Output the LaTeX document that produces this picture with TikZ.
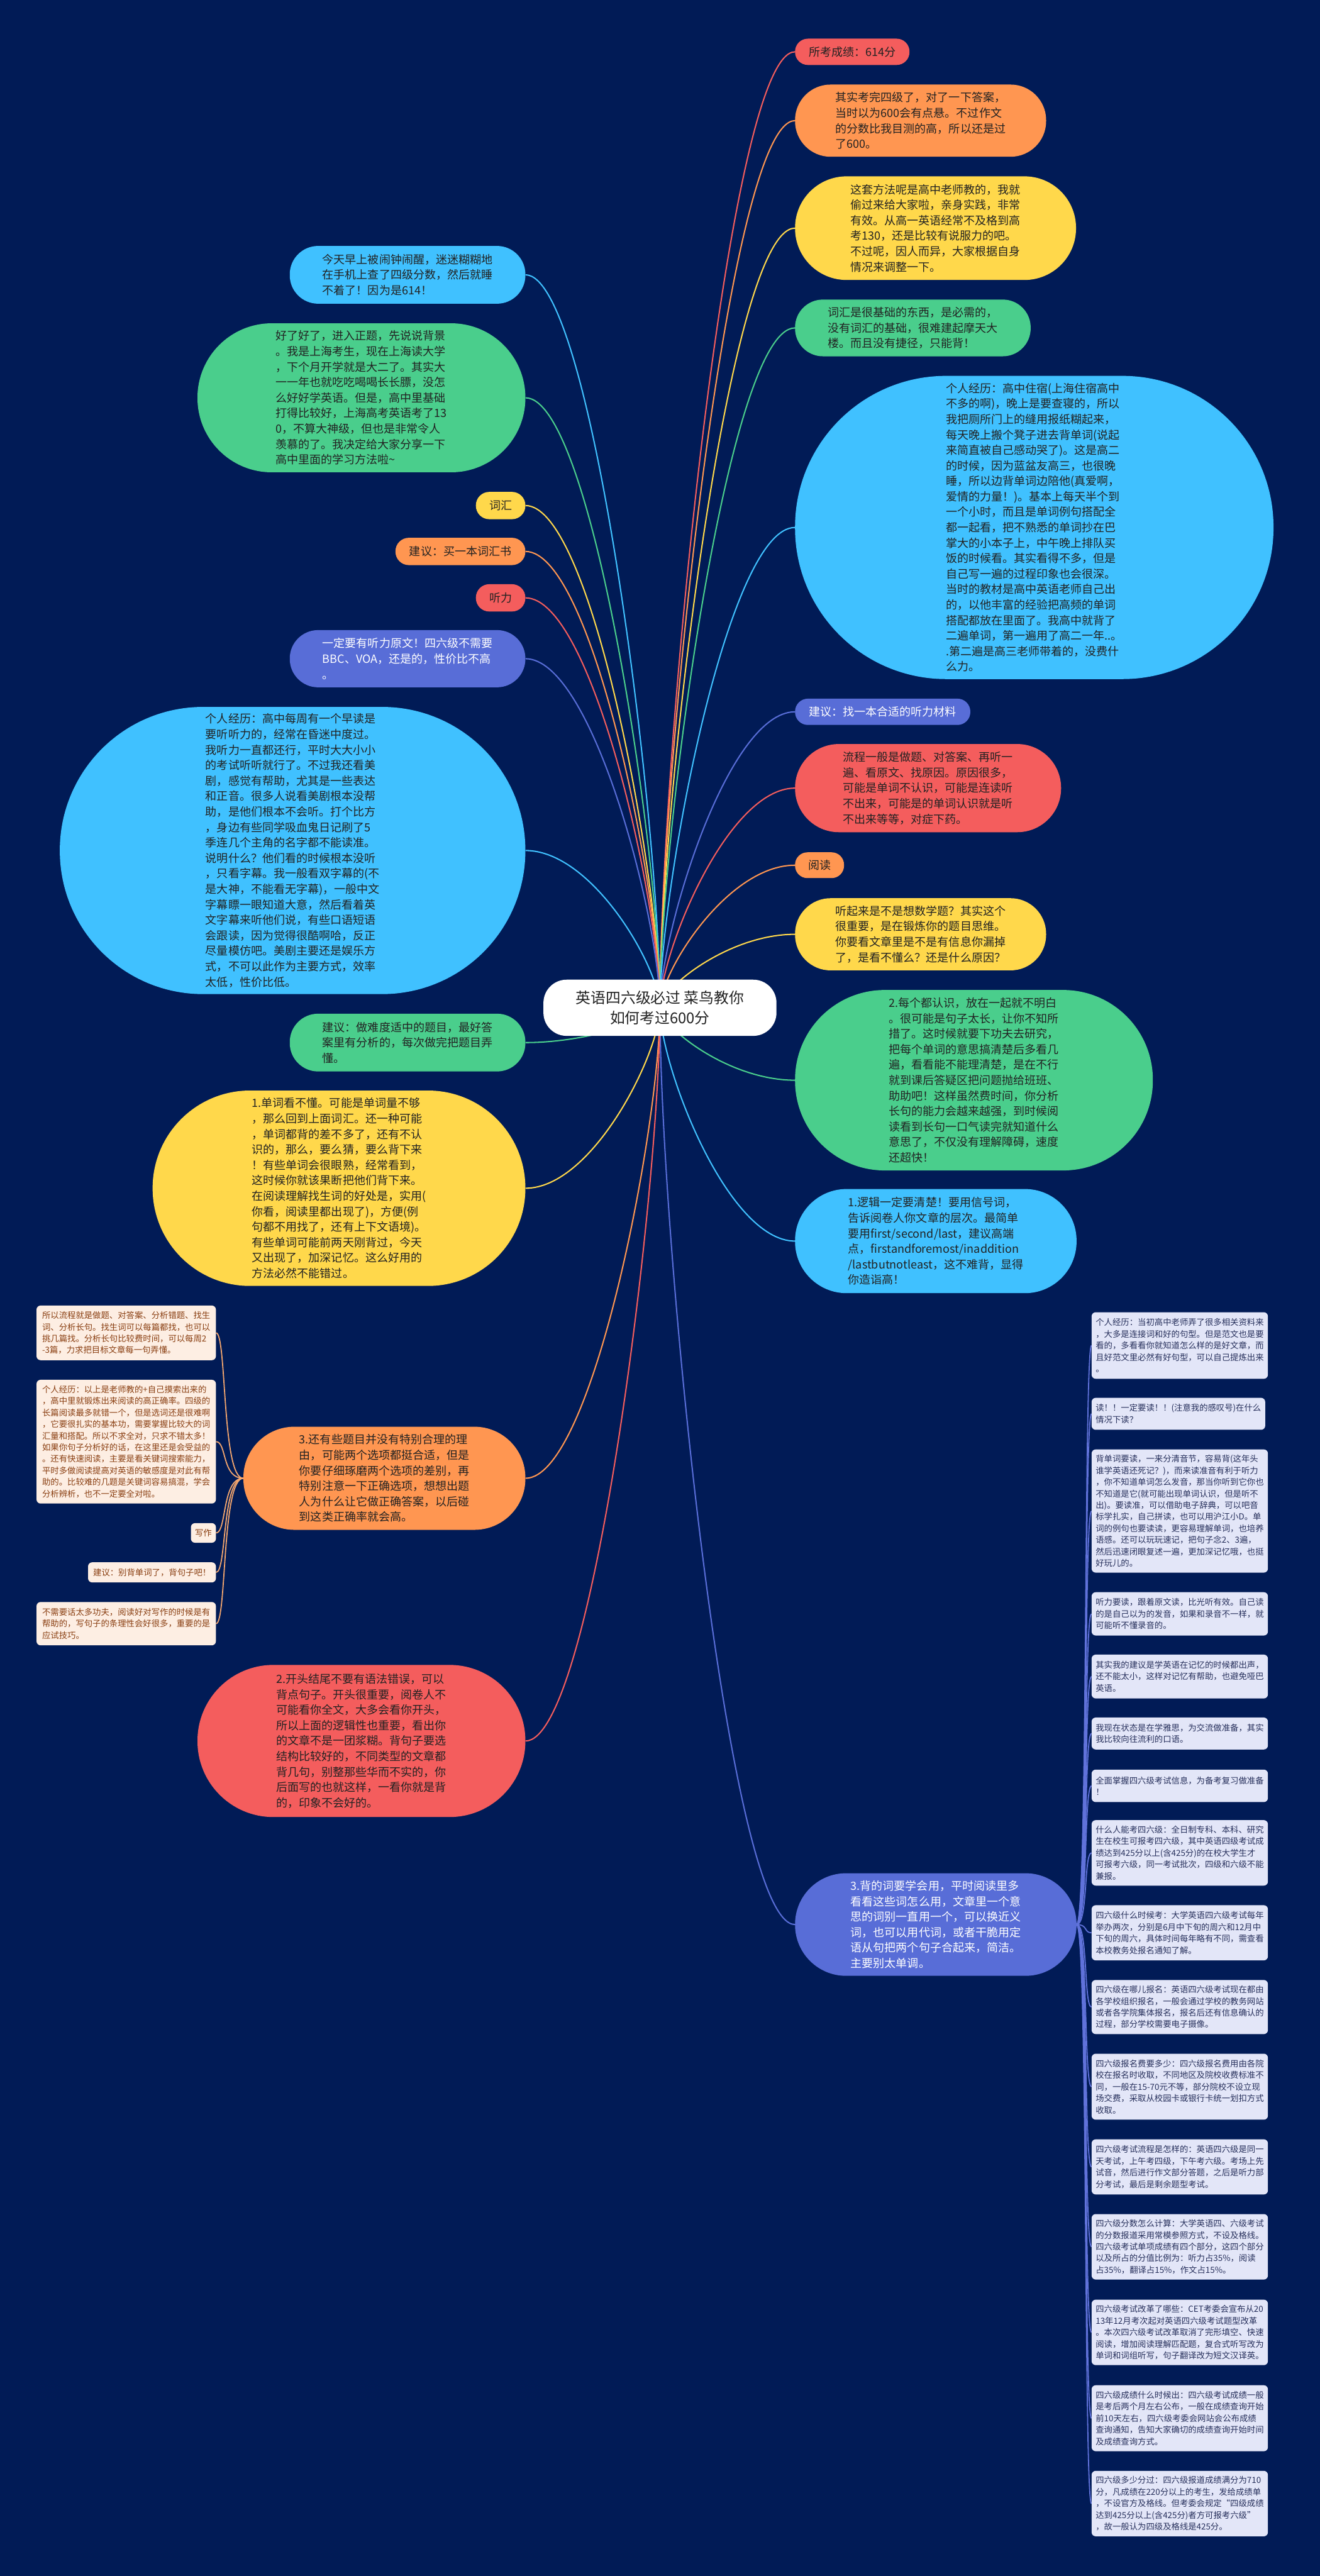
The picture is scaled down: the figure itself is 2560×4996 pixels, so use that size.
\documentclass[tikz,border=0pt]{standalone}
\usepackage{fontspec}
\setmainfont{Noto Sans CJK SC}
\usetikzlibrary{calc}
\pgfdeclarelayer{bgl}
\pgfdeclarelayer{linel}
\pgfsetlayers{bgl,linel,main}
\definecolor{navy}{HTML}{011B56}
\definecolor{cred}{HTML}{F45D5D}
\definecolor{corange}{HTML}{FF9651}
\definecolor{cyellow}{HTML}{FFD84B}
\definecolor{cgreen}{HTML}{4ACE8C}
\definecolor{cblue}{HTML}{40C1FF}
\definecolor{cpurple}{HTML}{586DD7}
\definecolor{txtdark}{HTML}{222222}
\definecolor{noteL}{HTML}{FDEEE3}
\definecolor{noteLtxt}{HTML}{8A3F12}
\definecolor{noteLline}{HTML}{F3A66E}
\definecolor{noteR}{HTML}{E3E6F8}
\definecolor{noteRtxt}{HTML}{27305C}
\definecolor{noteRline}{HTML}{6072DA}
\newcommand{\fbig}{\fontsize{22}{30}\selectfont}
\newcommand{\fnotesz}{\fontsize{16.3}{22.5}\selectfont}
\newcommand{\frootsz}{\fontsize{29}{40}\selectfont}
\newcommand{\hubline}[3]{\draw[hubconn,#1] (#2.#3) .. controls ($(#2.#3)!0.5!(root.center |- #2.#3)$) and ($(root.center)!0.25!(root.center |- #2.#3)$) .. (root.center);}
\newcommand{\lbr}[1]{\draw[bracket,noteLline] (l10.west) .. controls ($(l10.west)+(-42,0)$) and ($(#1.east)+(21,0)$) .. (#1.east);}
\newcommand{\rbr}[1]{\draw[bracket,noteRline] (r12.east) .. controls ($(r12.east)+(22,0)$) and ($(#1.west)+(-15,0)$) .. (#1.west);}
\tikzset{
  bx/.style={inner sep=0pt, align=left, text=txtdark, font=\fbig},
  wbx/.style={bx, text=white},
  lnote/.style={fill=noteL, text=noteLtxt, font=\fnotesz, inner xsep=9pt, inner ysep=0pt, align=left, rounded corners=8pt, anchor=east},
  rnote/.style={fill=noteR, text=noteRtxt, font=\fnotesz, inner xsep=8pt, inner ysep=0pt, align=left, rounded corners=8pt, anchor=west, minimum width=335pt},
  hubconn/.style={line width=2.5pt},
  bracket/.style={line width=2.2pt},
}
\begin{document}
\begin{tikzpicture}[x=1pt,y=-1pt]
\useasboundingbox (0,0) rectangle (2560,4996);
\begin{pgfonlayer}{bgl}
\fill[navy] (0,0) rectangle (2560,4996);
\end{pgfonlayer}

% root
\node[fill=white, rounded corners=45pt, minimum width=452pt, minimum height=109pt, inner sep=0pt, align=center, font=\frootsz, text=txtdark] (root) at (1280,1954.5) {英语四六级必过 菜鸟教你\\如何考过600分};

% right side
\node[bx, fill=cred, minimum width=222pt, minimum height=51pt, rounded corners=25pt] (r1) at (1653,100.5) {所考成绩：614分};
\node[bx, fill=corange, minimum width=487pt, minimum height=140pt, rounded corners=69pt] (r2) at (1785.5,234) {其实考完四级了，对了一下答案，\\当时以为600会有点悬。不过作文\\的分数比我目测的高，所以还是过\\了600。};
\node[bx, fill=cyellow, minimum width=545pt, minimum height=201pt, rounded corners=100pt] (r3) at (1814.5,442.5) {这套方法呢是高中老师教的，我就\\偷过来给大家啦，亲身实践，非常\\有效。从高一英语经常不及格到高\\考130，还是比较有说服力的吧。\\不过呢，因人而异，大家根据自身\\情况来调整一下。};
\node[bx, fill=cgreen, minimum width=457pt, minimum height=110pt, rounded corners=54pt] (r4) at (1770.5,636) {词汇是很基础的东西，是必需的，\\没有词汇的基础，很难建起摩天大\\楼。而且没有捷径，只能背！};
\node[bx, fill=cblue, minimum width=928pt, minimum height=588pt, rounded corners=293pt] (r5) at (2006,1023) {个人经历：高中住宿(上海住宿高中\\不多的啊)，晚上是要查寝的，所以\\我把厕所门上的缝用报纸糊起来，\\每天晚上搬个凳子进去背单词(说起\\来简直被自己感动哭了)。这是高二\\的时候，因为蓝盆友高三，也很晚\\睡，所以边背单词边陪他(真爱啊，\\爱情的力量！)。基本上每天半个到\\一个小时，而且是单词例句搭配全\\都一起看，把不熟悉的单词抄在巴\\掌大的小本子上，中午晚上排队买\\饭的时候看。其实看得不多，但是\\自己写一遍的过程印象也会很深。\\当时的教材是高中英语老师自己出\\的，以他丰富的经验把高频的单词\\搭配都放在里面了。我高中就背了\\二遍单词，第一遍用了高二一年..。\\.第二遍是高三老师带着的，没费什\\么力。};
\node[wbx, fill=cpurple, minimum width=340pt, minimum height=51pt, rounded corners=25pt] (r6) at (1712,1380.5) {建议：找一本合适的听力材料};
\node[bx, fill=cred, minimum width=516pt, minimum height=171pt, rounded corners=85pt] (r7) at (1800,1528.5) {流程一般是做题、对答案、再听一\\遍、看原文、找原因。原因很多，\\可能是单词不认识，可能是连读听\\不出来，可能是的单词认识就是听\\不出来等等，对症下药。};
\node[bx, fill=corange, minimum width=95pt, minimum height=50pt, rounded corners=24pt] (r8) at (1589.5,1678) {阅读};
\node[bx, fill=cyellow, minimum width=487pt, minimum height=140pt, rounded corners=69pt] (r9) at (1785.5,1812) {听起来是不是想数学题？其实这个\\很重要，是在锻炼你的题目思维。\\你要看文章里是不是有信息你漏掉\\了，是看不懂么？还是什么原因？};
\node[bx, fill=cgreen, minimum width=694pt, minimum height=350pt, rounded corners=174pt] (r10) at (1889,2095) {2.每个都认识，放在一起就不明白\\。很可能是句子太长，让你不知所\\措了。这时候就要下功夫去研究，\\把每个单词的意思搞清楚后多看几\\遍，看看能不能理清楚，是在不行\\就到课后答疑区把问题抛给班班、\\助助吧！这样虽然费时间，你分析\\长句的能力会越来越强，到时候阅\\读看到长句一口气读完就知道什么\\意思了，不仅没有理解障碍，速度\\还超快！};
\node[bx, fill=cblue, minimum width=546pt, minimum height=202pt, rounded corners=100pt] (r11) at (1815,2407) {1.逻辑一定要清楚！要用信号词，\\告诉阅卷人你文章的层次。最简单\\要用first/second/last，建议高端\\点，firstandforemost/inaddition\\/lastbutnotleast，这不难背，显得\\你造诣高！};
\node[wbx, fill=cpurple, minimum width=546pt, minimum height=199pt, rounded corners=99pt] (r12) at (1815,3732.5) {3.背的词要学会用，平时阅读里多\\看看这些词怎么用，文章里一个意\\思的词别一直用一个，可以换近义\\词，也可以用代词，或者干脆用定\\语从句把两个句子合起来，简洁。\\主要别太单调。};

% left side
\node[bx, fill=cblue, minimum width=457pt, minimum height=112pt, rounded corners=55pt] (l1) at (790.5,533) {今天早上被闹钟闹醒，迷迷糊糊地\\在手机上查了四级分数，然后就睡\\不着了！因为是614！};
\node[bx, fill=cgreen, minimum width=636pt, minimum height=289pt, rounded corners=144pt] (l2) at (701,771.5) {好了好了，进入正题，先说说背景\\。我是上海考生，现在上海读大学\\，下个月开学就是大二了。其实大\\一一年也就吃吃喝喝长长膘，没怎\\么好好学英语。但是，高中里基础\\打得比较好，上海高考英语考了13\\0，不算大神级，但也是非常令人\\羡慕的了。我决定给大家分享一下\\高中里面的学习方法啦\textasciitilde};
\node[bx, fill=cyellow, minimum width=96pt, minimum height=53pt, rounded corners=26pt] (l3) at (971,980.5) {词汇};
\node[bx, fill=corange, minimum width=252pt, minimum height=53pt, rounded corners=26pt] (l4) at (893,1069.5) {建议：买一本词汇书};
\node[bx, fill=cred, minimum width=96pt, minimum height=53pt, rounded corners=26pt] (l5) at (971,1159.5) {听力};
\node[wbx, fill=cpurple, minimum width=457pt, minimum height=111pt, rounded corners=55pt] (l6) at (790.5,1277.5) {一定要有听力原文！四六级不需要\\BBC、VOA，还是的，性价比不高\\。};
\node[bx, fill=cblue, minimum width=903pt, minimum height=557pt, rounded corners=278pt] (l7) at (567.5,1649.5) {个人经历：高中每周有一个早读是\\要听听力的，经常在昏迷中度过。\\我听力一直都还行，平时大大小小\\的考试听听就行了。不过我还看美\\剧，感觉有帮助，尤其是一些表达\\和正音。很多人说看美剧根本没帮\\助，是他们根本不会听。打个比方\\，身边有些同学吸血鬼日记刷了5\\季连几个主角的名字都不能读准。\\说明什么？他们看的时候根本没听\\，只看字幕。我一般看双字幕的(不\\是大神，不能看无字幕)，一般中文\\字幕瞟一眼知道大意，然后看着英\\文字幕来听他们说，有些口语短语\\会跟读，因为觉得很酷啊哈，反正\\尽量模仿吧。美剧主要还是娱乐方\\式，不可以此作为主要方式，效率\\太低，性价比低。};
\node[bx, fill=cgreen, minimum width=457pt, minimum height=112pt, rounded corners=55pt] (l8) at (790.5,2022) {建议：做难度适中的题目，最好答\\案里有分析的，每次做完把题目弄\\懂。};
\node[bx, fill=cyellow, minimum width=723pt, minimum height=379pt, rounded corners=189pt] (l9) at (657.5,2304.5) {1.单词看不懂。可能是单词量不够\\，那么回到上面词汇。还一种可能\\，单词都背的差不多了，还有不认\\识的，那么，要么猜，要么背下来\\！有些单词会很眼熟，经常看到，\\这时候你就该果断把他们背下来。\\在阅读理解找生词的好处是，实用(\\你看，阅读里都出现了)，方便(例\\句都不用找了，还有上下文语境)。\\有些单词可能前两天刚背过，今天\\又出现了，加深记忆。这么好用的\\方法必然不能错过。};
\node[bx, fill=corange, minimum width=547pt, minimum height=200pt, rounded corners=99pt] (l10) at (745.5,2867) {3.还有些题目并没有特别合理的理\\由，可能两个选项都挺合适，但是\\你要仔细琢磨两个选项的差别，再\\特别注意一下正确选项，想想出题\\人为什么让它做正确答案，以后碰\\到这类正确率就会高。};
\node[bx, fill=cred, minimum width=636pt, minimum height=295pt, rounded corners=147pt] (l11) at (701,3376.5) {2.开头结尾不要有语法错误，可以\\背点句子。开头很重要，阅卷人不\\可能看你全文，大多会看你开头，\\所以上面的逻辑性也重要，看出你\\的文章不是一团浆糊。背句子要选\\结构比较好的，不同类型的文章都\\背几句，别整那些华而不实的，你\\后面写的也就这样，一看你就是背\\的，印象不会好的。};

% left notes
\node[lnote, minimum width=348pt, minimum height=106pt] (n1) at (419,2585) {所以流程就是做题、对答案、分析错题、找生\\词、分析长句。找生词可以每篇都找，也可以\\挑几篇找。分析长句比较费时间，可以每周2\\-3篇，力求把目标文章每一句弄懂。};
\node[lnote, minimum width=348pt, minimum height=240pt] (n2) at (419,2796) {个人经历：以上是老师教的+自己摸索出来的\\，高中里就锻炼出来阅读的高正确率。四级的\\长篇阅读最多就错一个，但是选词还是很难啊\\，它要很扎实的基本功，需要掌握比较大的词\\汇量和搭配。所以不求全对，只求不错太多！\\如果你句子分析好的话，在这里还是会受益的\\。还有快速阅读，主要是看关键词搜索能力，\\平时多做阅读提高对英语的敏感度是对此有帮\\助的。比较难的几题是关键词容易搞混，学会\\分析辨析，也不一定要全对啦。};
\node[lnote, inner xsep=8pt, minimum height=38pt] (n3) at (419,2973) {写作};
\node[lnote, minimum width=248pt, minimum height=39pt] (n4) at (419,3049.5) {建议：别背单词了，背句子吧！};
\node[lnote, minimum width=348pt, minimum height=84pt] (n5) at (419,3149) {不需要话太多功夫，阅读好对写作的时候是有\\帮助的，写句子的条理性会好很多，重要的是\\应试技巧。};

% right notes
\node[rnote, minimum height=129pt] (m1) at (2117,2609.5) {个人经历：当初高中老师弄了很多相关资料来\\，大多是连接词和好的句型。但是范文也是要\\看的，多看看你就知道怎么样的是好文章，而\\且好范文里必然有好句型，可以自己提炼出来\\。};
\node[rnote, minimum height=62pt] (m2) at (2117,2742) {读！！一定要读！！(注意我的感叹号)在什么\\情况下读？};
\node[rnote, minimum height=239pt] (m3) at (2117,2930.5) {背单词要读，一来分清音节，容易背(这年头\\谁学英语还死记？)，而来读准音有利于听力\\，你不知道单词怎么发音，那当你听到它你也\\不知道是它(就可能出现单词认识，但是听不\\出)。要读准，可以借助电子辞典，可以吧音\\标学扎实，自己拼读，也可以用沪江小D。单\\词的例句也要读读，更容易理解单词，也培养\\语感。还可以玩玩速记，把句子念2、3遍，\\然后迅速闭眼复述一遍，更加深记忆哦，也挺\\好玩儿的。};
\node[rnote, minimum height=84pt] (m4) at (2117,3130) {听力要读，跟着原文读，比光听有效。自己读\\的是自己以为的发音，如果和录音不一样，就\\可能听不懂录音的。};
\node[rnote, minimum height=85pt] (m5) at (2117,3251.5) {其实我的建议是学英语在记忆的时候都出声，\\还不能太小，这样对记忆有帮助，也避免哑巴\\英语。};
\node[rnote, minimum height=62pt] (m6) at (2117,3362) {我现在状态是在学雅思，为交流做准备，其实\\我比较向往流利的口语。};
\node[rnote, minimum height=63pt] (m7) at (2117,3463.5) {全面掌握四六级考试信息，为备考复习做准备\\！};
\node[rnote, minimum height=127pt] (m8) at (2117,3593.5) {什么人能考四六级：全日制专科、本科、研究\\生在校生可报考四六级，其中英语四级考试成\\绩达到425分以上(含425分)的在校大学生才\\可报考六级，同一考试批次，四级和六级不能\\兼报。};
\node[rnote, minimum height=107pt] (m9) at (2117,3748.5) {四六级什么时候考：大学英语四六级考试每年\\举办两次，分别是6月中下旬的周六和12月中\\下旬的周六，具体时间每年略有不同，需查看\\本校教务处报名通知了解。};
\node[rnote, minimum height=105pt] (m10) at (2117,3892.5) {四六级在哪儿报名：英语四六级考试现在都由\\各学校组织报名，一般会通过学校的教务网站\\或者各学院集体报名，报名后还有信息确认的\\过程，部分学校需要电子摄像。};
\node[rnote, minimum height=128pt] (m11) at (2117,4047) {四六级报名费要多少：四六级报名费用由各院\\校在报名时收取，不同地区及院校收费标准不\\同，一般在15-70元不等，部分院校不设立现\\场交费，采取从校园卡或银行卡统一划扣方式\\收取。};
\node[rnote, minimum height=107pt] (m12) at (2117,4202.5) {四六级考试流程是怎样的：英语四六级是同一\\天考试，上午考四级，下午考六级。考场上先\\试音，然后进行作文部分答题，之后是听力部\\分考试，最后是剩余题型考试。};
\node[rnote, minimum height=127pt] (m13) at (2117,4357.5) {四六级分数怎么计算：大学英语四、六级考试\\的分数报道采用常模参照方式，不设及格线。\\四六级考试单项成绩有四个部分，这四个部分\\以及所占的分值比例为：听力占35\%，阅读\\占35\%，翻译占15\%，作文占15\%。};
\node[rnote, minimum height=127pt] (m14) at (2117,4523.5) {四六级考试改革了哪些：CET考委会宣布从20\\13年12月考次起对英语四六级考试题型改革\\。本次四六级考试改革取消了完形填空、快速\\阅读，增加阅读理解匹配题，复合式听写改为\\单词和词组听写，句子翻译改为短文汉译英。};
\node[rnote, minimum height=128pt] (m15) at (2117,4690) {四六级成绩什么时候出：四六级考试成绩一般\\是考后两个月左右公布，一般在成绩查询开始\\前10天左右，四六级考委会网站会公布成绩\\查询通知，告知大家确切的成绩查询开始时间\\及成绩查询方式。};
\node[rnote, minimum height=127pt] (m16) at (2117,4855.5) {四六级多少分过：四六级报道成绩满分为710\\分，凡成绩在220分以上的考生，发给成绩单\\，不设官方及格线。但考委会规定“四级成绩\\达到425分以上(含425分)者方可报考六级”\\，故一般认为四级及格线是425分。};

\begin{pgfonlayer}{linel}
\hubline{cred}{r1}{west}
\hubline{corange}{r2}{west}
\hubline{cyellow}{r3}{west}
\hubline{cgreen}{r4}{west}
\hubline{cblue}{r5}{west}
\hubline{cpurple}{r6}{west}
\hubline{cred}{r7}{west}
\hubline{corange}{r8}{west}
\hubline{cyellow}{r9}{west}
\hubline{cgreen}{r10}{west}
\hubline{cblue}{r11}{west}
\hubline{cpurple}{r12}{west}
\hubline{cblue}{l1}{east}
\hubline{cgreen}{l2}{east}
\hubline{cyellow}{l3}{east}
\hubline{corange}{l4}{east}
\hubline{cred}{l5}{east}
\hubline{cpurple}{l6}{east}
\hubline{cblue}{l7}{east}
\hubline{cgreen}{l8}{east}
\hubline{cyellow}{l9}{east}
\hubline{corange}{l10}{east}
\hubline{cred}{l11}{east}
\lbr{n1}\lbr{n2}\lbr{n3}\lbr{n4}\lbr{n5}
\rbr{m1}\rbr{m2}\rbr{m3}\rbr{m4}\rbr{m5}\rbr{m6}\rbr{m7}\rbr{m8}
\rbr{m9}\rbr{m10}\rbr{m11}\rbr{m12}\rbr{m13}\rbr{m14}\rbr{m15}\rbr{m16}
\end{pgfonlayer}
\end{tikzpicture}
\end{document}
